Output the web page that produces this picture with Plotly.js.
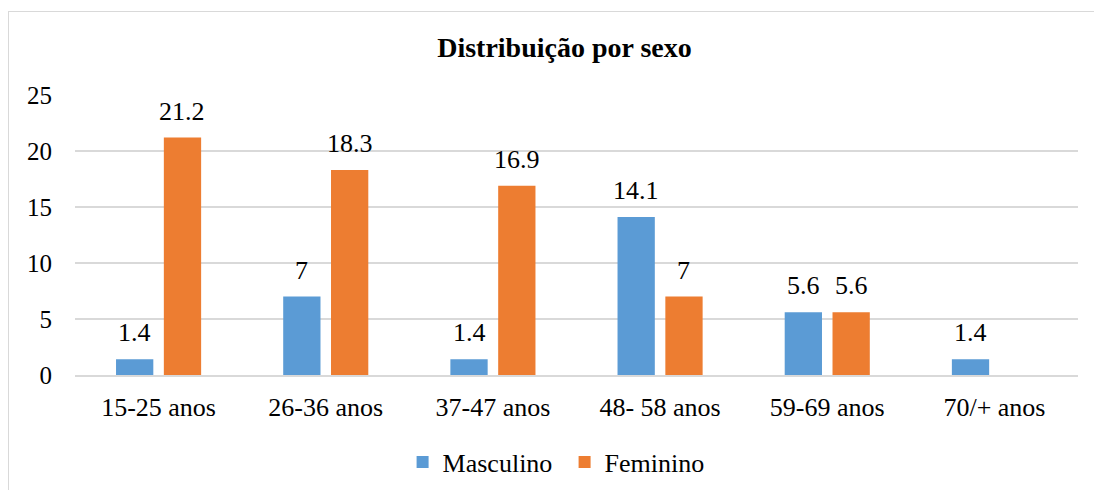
<!DOCTYPE html>
<html>
<head>
<meta charset="utf-8">
<script src="https://cdn.plot.ly/plotly-3.0.1.min.js"></script>
<style>
html,body{margin:0;padding:0;overflow:hidden;background:#fff;}
#wrap{position:relative;width:1094px;height:490px;}
#chart{width:1094px;height:490px;}
#frame{position:absolute;left:8px;top:11px;width:1200px;height:600px;border:1px solid #d9d9d9;pointer-events:none;}
</style>
</head>
<body>
<div id="wrap"><div id="chart"></div><div id="frame"></div></div>
<script>
const categories = ["15-25 anos","26-36 anos","37-47 anos","48- 58 anos","59-69 anos","70/+ anos"];
const masculino = [1.4, 7, 1.4, 14.1, 5.6, 1.4];
const feminino = [21.2, 18.3, 16.9, 7, 5.6, null];
const yTicks = [0,5,10,15,20,25];

const font = "Liberation Serif, Times New Roman, serif";
const bargap = 0.428, bargroupgap = 0.22;
const plotW = 1094 - 75 - 16;
const slot = plotW / categories.length * (1 - bargap) / 2;

const data = [
  {type:"bar", name:"Masculino", x:categories, y:masculino, marker:{color:"#5B9BD5"}},
  {type:"bar", name:"Feminino", x:categories, y:feminino, marker:{color:"#ED7D31"}}
];
const annotations = [];
[[masculino,-1],[feminino,1]].forEach(([vals,side])=>{
  vals.forEach((v,i)=>{
    if(v==null) return;
    annotations.push({x:categories[i], y:v, xref:"x", yref:"y", text:String(v), showarrow:false,
      xanchor:"center", yanchor:"bottom", xshift:side*slot/2, yshift:10,
      font:{family:font,size:26,color:"#000"}});
  });
});
const layout = {
  width:1094, height:490,
  margin:{l:75, r:16, t:95, b:115, autoexpand:false},
  paper_bgcolor:"#fff", plot_bgcolor:"#fff",
  font:{family:font, size:26, color:"#000"},
  title:{text:"<b>Distribuição por sexo</b>", x:0.516, xanchor:"center", y:0.904, yanchor:"middle", font:{family:font,size:28,color:"#000"}},
  barmode:"group", bargap:bargap, bargroupgap:bargroupgap,
  xaxis:{type:"category", showgrid:false, showline:true, linecolor:"#d9d9d9", linewidth:1.5, ticks:"", ticklabelstandoff:8, tickfont:{family:font,size:26,color:"#000"}, automargin:false},
  yaxis:{range:[0,25], tickvals:yTicks, showgrid:true, gridcolor:"#d9d9d9", gridwidth:1.5, zeroline:false, showline:false, ticks:"", ticklabelstandoff:22, tickfont:{family:font,size:25,color:"#000"}, automargin:false},
  showlegend:true,
  legend:{orientation:"h", xref:"container", yref:"container", x:0.368, xanchor:"left", y:0.057, yanchor:"middle", font:{family:font,size:26,color:"#000"}, itemwidth:30, entrywidth:117, entrywidthmode:"pixels", tracegroupgap:0},
  annotations:annotations
};
Plotly.newPlot("chart", data, layout, {displayModeBar:false, staticPlot:true});
</script>
</body>
</html>
